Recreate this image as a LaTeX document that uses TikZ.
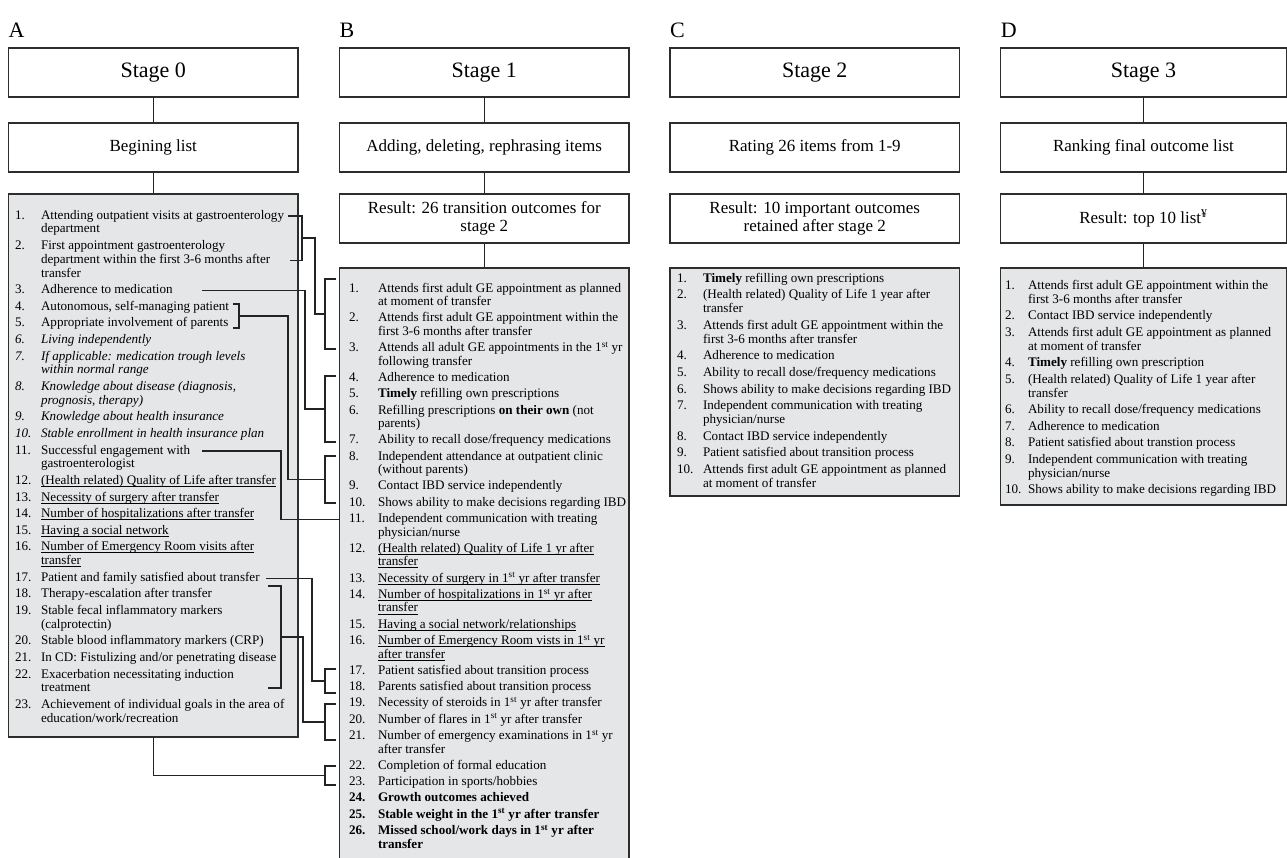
\documentclass[tikz,border=0pt]{standalone}
\usepackage{fontspec}
\setmainfont{Liberation Serif}
\definecolor{lfill}{RGB}{229,230,232}
\definecolor{bordcol}{RGB}{45,45,45}
\definecolor{linkcol}{RGB}{35,35,35}
\newcommand\lfA{\fontsize{13.1}{13.8}\selectfont}
\newcommand\lfB{\fontsize{13.1}{13.5}\selectfont}
\newcommand\lfC{\fontsize{13.1}{14}\selectfont}
\newcommand\twol[2]{\vtop{\lineskiplimit=-100pt\hbox{#1}\hbox{#2}}}
\newcommand\threel[3]{\vtop{\lineskiplimit=-100pt\hbox{#1}\hbox{#2}\hbox{#3}}}
\newcommand\undl[1]{\setbox0\hbox{#1}\rlap{\rule[-2.3pt]{\wd0}{0.65pt}}\box0}
\newcommand\sst{\textsuperscript{st}}
\begin{document}
\begin{tikzpicture}[x=1pt,y=-1pt,
  bx/.style={draw=bordcol, line width=1.2pt, fill=white, minimum width=289.5pt, minimum height=49pt, inner sep=0pt, align=center},
  stgbx/.style={bx, font=\fontsize{22}{26}\selectfont},
  midbx/.style={bx, font=\fontsize{17}{18.5}\selectfont},
  lbx/.style={draw=bordcol, line width=1.2pt, fill=lfill, minimum width=289.5pt, inner sep=0pt},
  dcol/.style={minimum width=285.5pt},
  conn/.style={draw=linkcol, line width=1.2pt},
  it/.style={anchor=base west, inner sep=0pt, outer sep=0pt},
  lab/.style={anchor=base west, inner sep=0pt, font=\fontsize{22}{26}\selectfont}]
\path[use as bounding box] (0,0) rectangle (1287,857);
\clip (0,0) rectangle (1287,857);

% labels
\node[lab] (lA) at (8.5,37) {A};
\node[lab] (lB) at (339.5,37) {B};
\node[lab] (lC) at (670,37) {C};
\node[lab] (lD) at (1000.7,37) {D};

% column A
\node[stgbx] (s0) at (153.25,72.5) {Stage 0};
\node[midbx] (m0) at (153.25,147.5) {Begining list};
\node[lbx, minimum height=543pt] (la) at (153.25,465.5) {};
\draw[conn] (s0) -- (m0);
\draw[conn] (m0) -- (la);

% column B
\node[stgbx] (s1) at (484.25,72.5) {Stage 1};
\node[midbx] (m1) at (484.25,147.5) {Adding, deleting, rephrasing items};
\node[midbx] (r1) at (484.25,218.5) {Result: 26 transition outcomes for\\stage 2};
\node[lbx, minimum height=590.5pt] (lb) at (484.25,563.25) {};
\draw[conn] (s1) -- (m1);
\draw[conn] (m1) -- (r1);
\draw[conn] (r1) -- (lb);

% column C
\node[stgbx] (s2) at (814.75,72.5) {Stage 2};
\node[midbx] (m2) at (814.75,147.5) {Rating 26 items from 1-9};
\node[midbx] (r2) at (814.75,218.5) {Result: 10 important outcomes\\retained after stage 2};
\node[lbx, minimum height=228pt] (lc) at (814.75,382) {};

% column D
\node[stgbx, dcol] (s3) at (1143.45,72.5) {Stage 3};
\node[midbx, dcol] (m3) at (1143.45,147.5) {Ranking final outcome list};
\node[midbx, dcol] (r3) at (1143.45,218.5) {Result: top 10 list\textsuperscript{¥}};
\node[lbx, dcol, minimum height=237pt] (ld) at (1143.45,386.5) {};
\draw[conn] (s3) -- (m3);
\draw[conn] (m3) -- (r3);
\draw[conn] (r3) -- (ld);

% list A
\begin{scope}[font=\lfA]
\node[it] (an1) at (15,219.0) {1.};
\node[it] (a1) at (41,219.0) {\twol{Attending outpatient visits at gastroenterology}{department}};
\node[it] (an2) at (15,249.4) {2.};
\node[it] (a2) at (41,249.4) {\threel{First appointment gastroenterology}{department within the first 3-6 months after}{transfer}};
\node[it] (an3) at (15,293.6) {3.};
\node[it] (a3) at (41,293.6) {Adherence to medication};
\node[it] (an4) at (15,310.2) {4.};
\node[it] (a4) at (41,310.2) {Autonomous, self-managing patient};
\node[it] (an5) at (15,326.8) {5.};
\node[it] (a5) at (41,326.8) {Appropriate involvement of parents};
\node[it] (an6) at (15,343.4) {\itshape 6.};
\node[it] (a6) at (41,343.4) {\itshape Living independently};
\node[it] (an7) at (15,360.0) {\itshape 7.};
\node[it] (a7) at (41,360.0) {\itshape\twol{If applicable: medication trough levels}{within normal range}};
\node[it] (an8) at (15,390.4) {\itshape 8.};
\node[it] (a8) at (41,390.4) {\itshape\twol{Knowledge about disease (diagnosis,}{prognosis, therapy)}};
\node[it] (an9) at (15,420.8) {\itshape 9.};
\node[it] (a9) at (41,420.8) {\itshape Knowledge about health insurance};
\node[it] (an10) at (15,437.4) {\itshape 10.};
\node[it] (a10) at (41,437.4) {\itshape Stable enrollment in health insurance plan};
\node[it] (an11) at (15,454.0) {11.};
\node[it] (a11) at (41,454.0) {\twol{Successful engagement with}{gastroenterologist}};
\node[it] (an12) at (15,484.4) {12.};
\node[it] (a12) at (41,484.4) {\undl{(Health related) Quality of Life after transfer}};
\node[it] (an13) at (15,501.0) {13.};
\node[it] (a13) at (41,501.0) {\undl{Necessity of surgery after transfer}};
\node[it] (an14) at (15,517.6) {14.};
\node[it] (a14) at (41,517.6) {\undl{Number of hospitalizations after transfer}};
\node[it] (an15) at (15,534.2) {15.};
\node[it] (a15) at (41,534.2) {\undl{Having a social network}};
\node[it] (an16) at (15,550.8) {16.};
\node[it] (a16) at (41,550.8) {\twol{\undl{Number of Emergency Room visits after}}{\undl{transfer}}};
\node[it] (an17) at (15,581.2) {17.};
\node[it] (a17) at (41,581.2) {Patient and family satisfied about transfer};
\node[it] (an18) at (15,597.8) {18.};
\node[it] (a18) at (41,597.8) {Therapy-escalation after transfer};
\node[it] (an19) at (15,614.4) {19.};
\node[it] (a19) at (41,614.4) {\twol{Stable fecal inflammatory markers}{(calprotectin)}};
\node[it] (an20) at (15,644.8) {20.};
\node[it] (a20) at (41,644.8) {Stable blood inflammatory markers (CRP)};
\node[it] (an21) at (15,661.4) {21.};
\node[it] (a21) at (41,661.4) {In CD: Fistulizing and/or penetrating disease};
\node[it] (an22) at (15,678.0) {22.};
\node[it] (a22) at (41,678.0) {\twol{Exacerbation necessitating induction}{treatment}};
\node[it] (an23) at (15,708.4) {23.};
\node[it] (a23) at (41,708.4) {\twol{Achievement of individual goals in the area of}{education/work/recreation}};
\end{scope}

% list B
\begin{scope}[font=\lfB]
\node[it] (bn1) at (349,292.0) {1.};
\node[it] (b1) at (378,292.0) {\twol{Attends first adult GE appointment as planned}{at moment of transfer}};
\node[it] (bn2) at (349,321.8) {2.};
\node[it] (b2) at (378,321.8) {\twol{Attends first adult GE appointment within the}{first 3-6 months after transfer}};
\node[it] (bn3) at (349,351.6) {3.};
\node[it] (b3) at (378,351.6) {\twol{Attends all adult GE appointments in the 1\sst{} yr}{following transfer}};
\node[it] (bn4) at (349,381.4) {4.};
\node[it] (b4) at (378,381.4) {Adherence to medication};
\node[it] (bn5) at (349,397.7) {5.};
\node[it] (b5) at (378,397.7) {\textbf{Timely} refilling own prescriptions};
\node[it] (bn6) at (349,414.0) {6.};
\node[it] (b6) at (378,414.0) {\twol{Refilling prescriptions \textbf{on their own} (not}{parents)}};
\node[it] (bn7) at (349,443.8) {7.};
\node[it] (b7) at (378,443.8) {Ability to recall dose/frequency medications};
\node[it] (bn8) at (349,460.1) {8.};
\node[it] (b8) at (378,460.1) {\twol{Independent attendance at outpatient clinic}{(without parents)}};
\node[it] (bn9) at (349,489.9) {9.};
\node[it] (b9) at (378,489.9) {Contact IBD service independently};
\node[it] (bn10) at (349,506.2) {10.};
\node[it] (b10) at (378,506.2) {Shows ability to make decisions regarding IBD};
\node[it] (bn11) at (349,522.5) {11.};
\node[it] (b11) at (378,522.5) {\twol{Independent communication with treating}{physician/nurse}};
\node[it] (bn12) at (349,552.3) {12.};
\node[it] (b12) at (378,552.3) {\twol{\undl{(Health related) Quality of Life 1 yr after}}{\undl{transfer}}};
\node[it] (bn13) at (349,582.1) {13.};
\node[it] (b13) at (378,582.1) {\undl{Necessity of surgery in 1\sst{} yr after transfer}};
\node[it] (bn14) at (349,598.4) {14.};
\node[it] (b14) at (378,598.4) {\twol{\undl{Number of hospitalizations in 1\sst{} yr after}}{\undl{transfer}}};
\node[it] (bn15) at (349,628.2) {15.};
\node[it] (b15) at (378,628.2) {\undl{Having a social network/relationships}};
\node[it] (bn16) at (349,644.5) {16.};
\node[it] (b16) at (378,644.5) {\twol{\undl{Number of Emergency Room vists in 1\sst{} yr}}{\undl{after transfer}}};
\node[it] (bn17) at (349,674.3) {17.};
\node[it] (b17) at (378,674.3) {Patient satisfied about transition process};
\node[it] (bn18) at (349,690.6) {18.};
\node[it] (b18) at (378,690.6) {Parents satisfied about transition process};
\node[it] (bn19) at (349,706.9) {19.};
\node[it] (b19) at (378,706.9) {Necessity of steroids in 1\sst{} yr after transfer};
\node[it] (bn20) at (349,723.2) {20.};
\node[it] (b20) at (378,723.2) {Number of flares in 1\sst{} yr after transfer};
\node[it] (bn21) at (349,739.5) {21.};
\node[it] (b21) at (378,739.5) {\twol{Number of emergency examinations in 1\sst{} yr}{after transfer}};
\node[it] (bn22) at (349,769.3) {22.};
\node[it] (b22) at (378,769.3) {Completion of formal education};
\node[it] (bn23) at (349,785.6) {23.};
\node[it] (b23) at (378,785.6) {Participation in sports/hobbies};
\node[it] (bn24) at (349,801.9) {\bfseries 24.};
\node[it] (b24) at (378,801.9) {\textbf{Growth outcomes achieved}};
\node[it] (bn25) at (349,818.2) {\bfseries 25.};
\node[it] (b25) at (378,818.2) {\textbf{Stable weight in the 1\sst{} yr after transfer}};
\node[it] (bn26) at (349,834.5) {\bfseries 26.};
\node[it] (b26) at (378,834.5) {\bfseries\twol{Missed school/work days in 1\sst{} yr after}{transfer}};
\end{scope}

% list C
\begin{scope}[font=\lfC]
\node[it] (cn1) at (677,282.0) {1.};
\node[it] (c1) at (703,282.0) {\textbf{Timely} refilling own prescriptions};
\node[it] (cn2) at (677,298.6) {2.};
\node[it] (c2) at (703,298.6) {\twol{(Health related) Quality of Life 1 year after}{transfer}};
\node[it] (cn3) at (677,329.2) {3.};
\node[it] (c3) at (703,329.2) {\twol{Attends first adult GE appointment within the}{first 3-6 months after transfer}};
\node[it] (cn4) at (677,359.8) {4.};
\node[it] (c4) at (703,359.8) {Adherence to medication};
\node[it] (cn5) at (677,376.4) {5.};
\node[it] (c5) at (703,376.4) {Ability to recall dose/frequency medications};
\node[it] (cn6) at (677,393.0) {6.};
\node[it] (c6) at (703,393.0) {Shows ability to make decisions regarding IBD};
\node[it] (cn7) at (677,409.6) {7.};
\node[it] (c7) at (703,409.6) {\twol{Independent communication with treating}{physician/nurse}};
\node[it] (cn8) at (677,440.2) {8.};
\node[it] (c8) at (703,440.2) {Contact IBD service independently};
\node[it] (cn9) at (677,456.8) {9.};
\node[it] (c9) at (703,456.8) {Patient satisfied about transition process};
\node[it] (cn10) at (677,473.4) {10.};
\node[it] (c10) at (703,473.4) {\twol{Attends first adult GE appointment as planned}{at moment of transfer}};
\end{scope}

% list D
\begin{scope}[font=\lfC]
\node[it] (dn1) at (1005,289.0) {1.};
\node[it] (d1) at (1028,289.0) {\twol{Attends first adult GE appointment within the}{first 3-6 months after transfer}};
\node[it] (dn2) at (1005,319.5) {2.};
\node[it] (d2) at (1028,319.5) {Contact IBD service independently};
\node[it] (dn3) at (1005,336.0) {3.};
\node[it] (d3) at (1028,336.0) {\twol{Attends first adult GE appointment as planned}{at moment of transfer}};
\node[it] (dn4) at (1005,366.5) {4.};
\node[it] (d4) at (1028,366.5) {\textbf{Timely} refilling own prescription};
\node[it] (dn5) at (1005,383.0) {5.};
\node[it] (d5) at (1028,383.0) {\twol{(Health related) Quality of Life 1 year after}{transfer}};
\node[it] (dn6) at (1005,413.5) {6.};
\node[it] (d6) at (1028,413.5) {Ability to recall dose/frequency medications};
\node[it] (dn7) at (1005,430.0) {7.};
\node[it] (d7) at (1028,430.0) {Adherence to medication};
\node[it] (dn8) at (1005,446.5) {8.};
\node[it] (d8) at (1028,446.5) {Patient satisfied about transtion process};
\node[it] (dn9) at (1005,463.0) {9.};
\node[it] (d9) at (1028,463.0) {\twol{Independent communication with treating}{physician/nurse}};
\node[it] (dn10) at (1005,493.5) {10.};
\node[it] (d10) at (1028,493.5) {Shows ability to make decisions regarding IBD};
\end{scope}

% bracket coordinates, list B side
\coordinate (bb1t) at (336,279);   \coordinate (bb1m) at (325,314);   \coordinate (bb1b) at (336,349);
\coordinate (bb2t) at (336,376);   \coordinate (bb2m) at (325,409);   \coordinate (bb2b) at (336,442);
\coordinate (bb3t) at (336,456);   \coordinate (bb3m) at (325,479.5); \coordinate (bb3b) at (336,503);
\coordinate (bb4t) at (336,669);   \coordinate (bb4m) at (325,681);   \coordinate (bb4b) at (336,693);
\coordinate (bb5t) at (336,704);   \coordinate (bb5m) at (325,722);   \coordinate (bb5b) at (336,740);
\coordinate (bb6t) at (336,766);   \coordinate (bb6m) at (325,775.5); \coordinate (bb6b) at (336,785);
\foreach \k in {1,...,6} {\draw[conn] (bb\k t) -| (bb\k m) |- (bb\k b);}

% list A side
\coordinate (ab1t) at (288,216);   \coordinate (ab1m) at (302,238);   \coordinate (ab1b) at (290,260.2);
\coordinate (ab2t) at (233,304);   \coordinate (ab2m) at (239,316);   \coordinate (ab2b) at (233,328);
\coordinate (ab3t) at (268,586);   \coordinate (ab3m) at (281,637);   \coordinate (ab3b) at (268,688);
\foreach \k in {1,2,3} {\draw[conn] (ab\k t) -| (ab\k m) |- (ab\k b);}
\coordinate (a3c) at (202,290.6);
\coordinate (a11c) at (202,451);
\coordinate (a17c) at (266,578.2);
\coordinate (b11w) at (339.5,519.5);

\draw[conn] (ab1m) -- ++(13,0) |- (bb1m);
\draw[conn] (a3c) -- ++(103,0) |- (bb2m);
\draw[conn] (ab2m) -- ++(49,0) |- (bb3m);
\draw[conn] (a11c) -- ++(79,0) |- (b11w);
\draw[conn] (a17c) -- ++(46,0) |- (bb4m);
\draw[conn] (ab3m) -- ++(22,0) |- (bb5m);
\draw[conn] (la.south) |- (bb6m);
\end{tikzpicture}
\end{document}
